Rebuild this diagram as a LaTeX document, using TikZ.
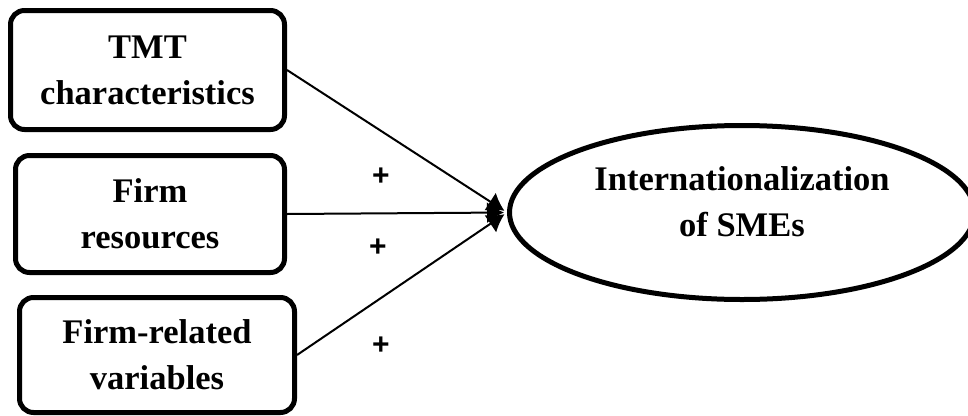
\documentclass[tikz,border=0pt]{standalone}
\usepackage{fontspec}
\setmainfont{Liberation Serif}
\newfontfamily\signfont{Liberation Sans}
\usepackage{xcolor}
\usepackage{tikz}
\usetikzlibrary{shapes.geometric,arrows.meta}
\definecolor{ink}{HTML}{000000}
\definecolor{paper}{HTML}{FFFFFF}
\tikzset{
  box/.style={draw=ink, line width=5pt, rounded corners=14pt, align=center, inner sep=0pt,
    font=\fontsize{34.5}{46}\selectfont\bfseries},
  oval/.style={ellipse, draw=ink, line width=5pt, inner sep=0pt},
  title/.style={align=center, inner sep=0pt, font=\fontsize{34.5}{46}\selectfont\bfseries},
  link/.style={draw=ink, line width=2pt, -{Latex[length=17pt,width=21pt]}, shorten >=3pt},
  sign/.style={text=ink, inner sep=0pt, font=\signfont\bfseries\fontsize{30}{30}\selectfont},
}
\begin{document}
\begin{tikzpicture}[x=1pt,y=-1pt]
  \useasboundingbox[fill=paper] (0,0) rectangle (968,415);
  \node[box, minimum width=274pt, minimum height=119pt] (tmt) at (147.5,70) {TMT\\characteristics};
  \node[box, minimum width=269pt, minimum height=117pt] (res) at (150,214) {Firm\\resources};
  \node[box, minimum width=275pt, minimum height=115pt] (rel) at (157,355) {Firm-related\\variables};
  \node[oval, minimum width=465pt, minimum height=174pt] (sme) at (742,212.5) {};
  \node[title] (smetext) at (742,201.5) {Internationalization\\of SMEs};
  \draw[link] (tmt.east) -- (sme.west);
  \draw[link] (res.east) -- (sme.west);
  \draw[link] (rel.east) -- (sme.west);
  \node[sign] (plusA) at (381,177) {+};
  \node[sign] (plusB) at (378,248) {+};
  \node[sign] (plusC) at (381,346) {+};
\end{tikzpicture}
\end{document}
